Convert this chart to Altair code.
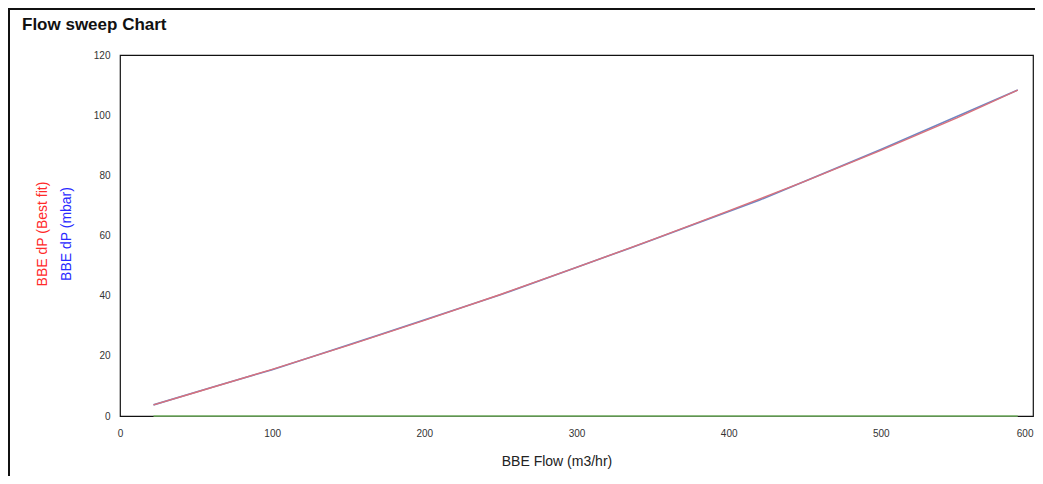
import altair as alt
import pandas as pd

# Measured data (blue)
flow_meas = [22, 60, 100, 170, 250, 335, 420, 500, 590]
dp_meas = [3.7, 9.5, 15.4, 26.9, 40.3, 55.8, 71.7, 88.6, 108.4]
# Best fit (red)
flow_fit = [22, 50, 100, 150, 200, 250, 300, 350, 400, 450, 500, 550, 590]
dp_fit = [3.7, 7.9, 15.5, 23.5, 31.8, 40.4, 49.4, 58.6, 68.2, 78.0, 88.3, 99.1, 108.3]
# Baseline series (green)
flow_zero = [22, 590]
dp_zero = [0, 0]

df_meas = pd.DataFrame({"flow": flow_meas, "dp": dp_meas})
df_fit = pd.DataFrame({"flow": flow_fit, "dp": dp_fit})
df_zero = pd.DataFrame({"flow": flow_zero, "dp": dp_zero})

FONT = "Liberation Sans"

xs = alt.Scale(domain=[0, 600], nice=False)
ys = alt.Scale(domain=[0, 120], nice=False)

xax = alt.Axis(values=[0, 100, 200, 300, 400, 500, 600], title=None, ticks=False,
               grid=False, labelFont=FONT, labelFontSize=10, labelColor="#333",
               labelPadding=12, domain=False, labelOverlap=False, labelBound=False,
               labelFlush=False,
               labelAlign={"condition": {"test": "datum.value >= 600", "value": "right"},
                           "value": "center"})
yax = alt.Axis(values=[0, 20, 40, 60, 80, 100, 120], title=None, ticks=False,
               grid=False, labelFont=FONT, labelFontSize=10, labelColor="#333",
               labelPadding=10, domain=False, labelFlush=False)

zero = alt.Chart(df_zero).mark_line(color="#7dbb6b", strokeWidth=1.5).encode(
    x=alt.X("flow:Q", scale=xs, axis=xax),
    y=alt.Y("dp:Q", scale=ys, axis=yax),
)
meas = alt.Chart(df_meas).mark_line(color="#6d86c4", strokeWidth=1.6).encode(
    x=alt.X("flow:Q", scale=xs),
    y=alt.Y("dp:Q", scale=ys),
)
fit = alt.Chart(df_fit).mark_line(color="#d9717c", strokeWidth=1.4).encode(
    x=alt.X("flow:Q", scale=xs),
    y=alt.Y("dp:Q", scale=ys),
)

def label(txt, x, y, color="#111", size=14, weight="normal", angle=0, align="center"):
    return alt.Chart(pd.DataFrame({"t": [txt]})).mark_text(
        font=FONT, fontSize=size, fontWeight=weight, color=color, angle=angle,
        align=align, baseline="middle"
    ).encode(text="t:N", x=alt.value(x), y=alt.value(y))

title = label("Flow sweep Chart", -98, -30, size=17, weight="bold", align="left")
xtitle = label("BBE Flow (m3/hr)", 437, 407, color="#222", size=14)
ytitle_red = label("BBE dP (Best fit)", -77, 179, color="#ff2a2a", size=14, angle=270)
ytitle_blue = label("BBE dP (mbar)", -53, 179, color="#2a2aff", size=14, angle=270)

frame = alt.Chart(pd.DataFrame({"a": [0]})).mark_rect(
    fill="white", fillOpacity=0, stroke="#111", strokeWidth=2
).encode(x=alt.value(-111), x2=alt.value(1000), y=alt.value(-46), y2=alt.value(500))

chart = alt.layer(frame, zero, meas, fit, title, xtitle, ytitle_red, ytitle_blue).properties(
    width=913, height=361,
    autosize=alt.AutoSizeParams(type="none"),
    padding={"left": 112, "top": 47, "right": 2, "bottom": 60},
).configure_view(stroke="#111", strokeWidth=1.2)

chart.save("out.html", embed_options={"renderer": "svg", "actions": False})
